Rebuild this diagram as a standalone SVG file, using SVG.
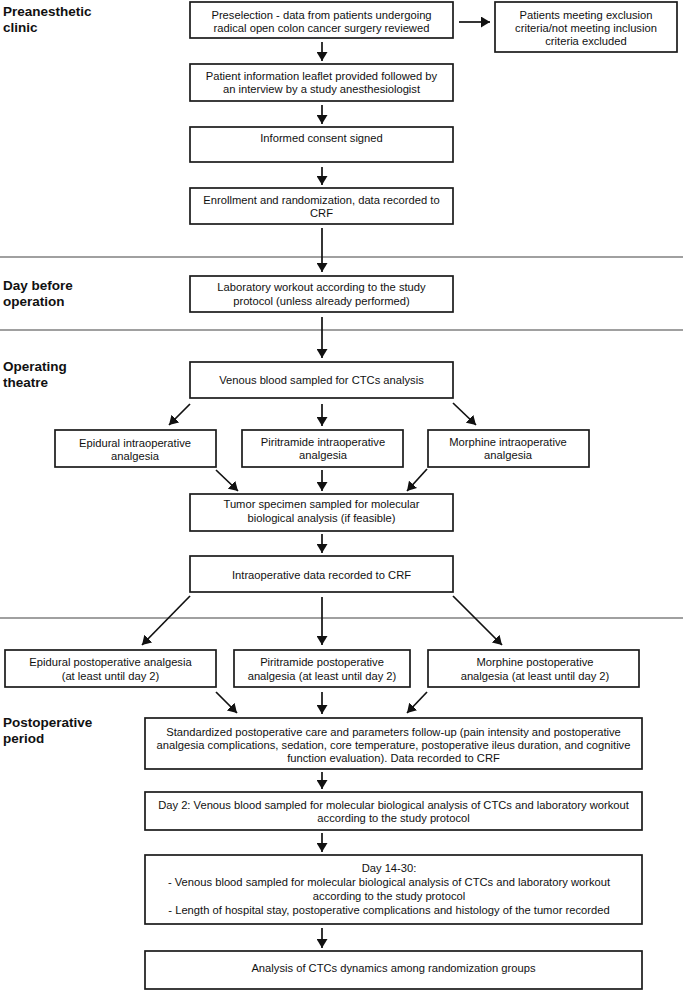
<svg xmlns="http://www.w3.org/2000/svg" width="683" height="992" viewBox="0 0 683 992">
<style>
.bg{fill:#fff}
.box{fill:#fff;stroke:#1a1a1a;stroke-width:1.7}
.t{font-family:"Liberation Sans",Arial,sans-serif;font-size:11.2px;fill:#111;text-anchor:middle}
.h{font-family:"Liberation Sans",Arial,sans-serif;font-size:13.5px;font-weight:bold;fill:#111}
.sep{stroke:#808080;stroke-width:1.5}
.c{stroke:#111;stroke-width:1.7;fill:none;marker-end:url(#ah)}
</style>
<defs>
<marker id="ah" markerUnits="userSpaceOnUse" markerWidth="11" markerHeight="11" refX="9" refY="5.5" orient="auto">
<path d="M0,0 L9,5.5 L0,11 z" fill="#111"/>
</marker>
</defs>
<rect class="bg" x="0" y="0" width="683" height="992"/>
<g id="separators">
<line class="sep" x1="0" y1="257" x2="683" y2="257"/>
<line class="sep" x1="0" y1="330" x2="683" y2="330"/>
<line class="sep" x1="0" y1="618" x2="683" y2="618"/>
</g>
<g id="headings">
<text class="h" x="3" y="16">Preanesthetic</text>
<text class="h" x="3" y="32">clinic</text>
<text class="h" x="3" y="290">Day before</text>
<text class="h" x="3" y="306">operation</text>
<text class="h" x="3" y="371">Operating</text>
<text class="h" x="3" y="387">theatre</text>
<text class="h" x="3" y="727">Postoperative</text>
<text class="h" x="3" y="743">period</text>
</g>
<g id="connectors">
<line class="c" x1="459" y1="22" x2="490" y2="22"/>
<line class="c" x1="322" y1="42" x2="322" y2="61"/>
<line class="c" x1="322" y1="105" x2="322" y2="124"/>
<line class="c" x1="322" y1="167" x2="322" y2="185"/>
<line class="c" x1="322" y1="228" x2="322" y2="272"/>
<line class="c" x1="322" y1="317" x2="322" y2="358"/>
<line class="c" x1="190" y1="404" x2="169" y2="425"/>
<line class="c" x1="322" y1="404" x2="322" y2="426"/>
<line class="c" x1="453" y1="403" x2="476" y2="425"/>
<line class="c" x1="216" y1="470" x2="238" y2="491"/>
<line class="c" x1="322" y1="470" x2="322" y2="491"/>
<line class="c" x1="427" y1="469" x2="407" y2="491"/>
<line class="c" x1="322" y1="534" x2="322" y2="553"/>
<line class="c" x1="190" y1="596" x2="142" y2="645"/>
<line class="c" x1="322" y1="597" x2="322" y2="645"/>
<line class="c" x1="453" y1="596" x2="502" y2="645"/>
<line class="c" x1="216" y1="692" x2="237" y2="713"/>
<line class="c" x1="322" y1="692" x2="322" y2="714"/>
<line class="c" x1="427" y1="692" x2="407" y2="713"/>
<line class="c" x1="322" y1="772" x2="322" y2="789"/>
<line class="c" x1="322" y1="833" x2="322" y2="852"/>
<line class="c" x1="322" y1="928" x2="322" y2="948"/>
</g>
<g id="n1"><rect class="box" x="190" y="2" width="263" height="36"/>
<text class="t" x="321.5" y="19">Preselection - data from patients undergoing</text>
<text class="t" x="321.5" y="31.5">radical open colon cancer surgery reviewed</text></g>
<g id="n-excl"><rect class="box" x="495" y="2" width="182" height="50"/>
<text class="t" x="586" y="19">Patients meeting exclusion</text>
<text class="t" x="586" y="31.5">criteria/not meeting inclusion</text>
<text class="t" x="586" y="44.5">criteria excluded</text></g>
<g id="n2"><rect class="box" x="190" y="64" width="263" height="37"/>
<text class="t" x="321.5" y="80">Patient information leaflet provided followed by</text>
<text class="t" x="321.5" y="93">an interview by a study anesthesiologist</text></g>
<g id="n3"><rect class="box" x="190" y="127" width="263" height="35"/>
<text class="t" x="321.5" y="142">Informed consent signed</text></g>
<g id="n4"><rect class="box" x="190" y="188" width="263" height="36"/>
<text class="t" x="321.5" y="204">Enrollment and randomization, data recorded to</text>
<text class="t" x="321.5" y="216.5">CRF</text></g>
<g id="n5"><rect class="box" x="190" y="276" width="263" height="36"/>
<text class="t" x="321.5" y="291">Laboratory workout according to the study</text>
<text class="t" x="321.5" y="305">protocol (unless already performed)</text></g>
<g id="n6"><rect class="box" x="190" y="362" width="263" height="36"/>
<text class="t" x="321.5" y="384">Venous blood sampled for CTCs analysis</text></g>
<g id="n7"><rect class="box" x="55" y="430" width="161" height="37"/>
<text class="t" x="135" y="447">Epidural intraoperative</text>
<text class="t" x="135" y="460">analgesia</text></g>
<g id="n8"><rect class="box" x="242" y="430" width="161" height="37"/>
<text class="t" x="323" y="446">Piritramide intraoperative</text>
<text class="t" x="323" y="459">analgesia</text></g>
<g id="n9"><rect class="box" x="428" y="430" width="161" height="37"/>
<text class="t" x="508" y="446">Morphine intraoperative</text>
<text class="t" x="508" y="459">analgesia</text></g>
<g id="n10"><rect class="box" x="190" y="494" width="263" height="37"/>
<text class="t" x="321.5" y="508">Tumor specimen sampled for molecular</text>
<text class="t" x="321.5" y="522">biological analysis (if feasible)</text></g>
<g id="n11"><rect class="box" x="190" y="556" width="263" height="36"/>
<text class="t" x="321.5" y="579">Intraoperative data recorded to CRF</text></g>
<g id="n12"><rect class="box" x="5" y="650" width="211" height="37"/>
<text class="t" x="110.5" y="666">Epidural postoperative analgesia</text>
<text class="t" x="110.5" y="680">(at least until day 2)</text></g>
<g id="n13"><rect class="box" x="234" y="650" width="176" height="37"/>
<text class="t" x="322" y="666">Piritramide postoperative</text>
<text class="t" x="322" y="680">analgesia (at least until day 2)</text></g>
<g id="n14"><rect class="box" x="428" y="650" width="211" height="37"/>
<text class="t" x="535" y="666">Morphine postoperative</text>
<text class="t" x="535" y="680">analgesia (at least until day 2)</text></g>
<g id="n15"><rect class="box" x="145" y="718" width="497" height="51"/>
<text class="t" x="393.5" y="736">Standardized postoperative care and parameters follow-up (pain intensity and postoperative</text>
<text class="t" x="393.5" y="749">analgesia complications, sedation, core temperature, postoperative ileus duration, and cognitive</text>
<text class="t" x="393.5" y="762">function evaluation). Data recorded to CRF</text></g>
<g id="n16"><rect class="box" x="145" y="792" width="497" height="38"/>
<text class="t" x="393.5" y="809">Day 2: Venous blood sampled for molecular biological analysis of CTCs and laboratory workout</text>
<text class="t" x="393.5" y="822">according to the study protocol</text></g>
<g id="n17"><rect class="box" x="145" y="855" width="497" height="69"/>
<text class="t" x="389" y="872">Day 14-30:</text>
<text class="t" x="389" y="886">- Venous blood sampled for molecular biological analysis of CTCs and laboratory workout</text>
<text class="t" x="389" y="900">according to the study protocol</text>
<text class="t" x="389" y="914">- Length of hospital stay, postoperative complications and histology of the tumor recorded</text></g>
<g id="n18"><rect class="box" x="145" y="951" width="497" height="38"/>
<text class="t" x="393.5" y="972">Analysis of CTCs dynamics among randomization groups</text></g>
</svg>
